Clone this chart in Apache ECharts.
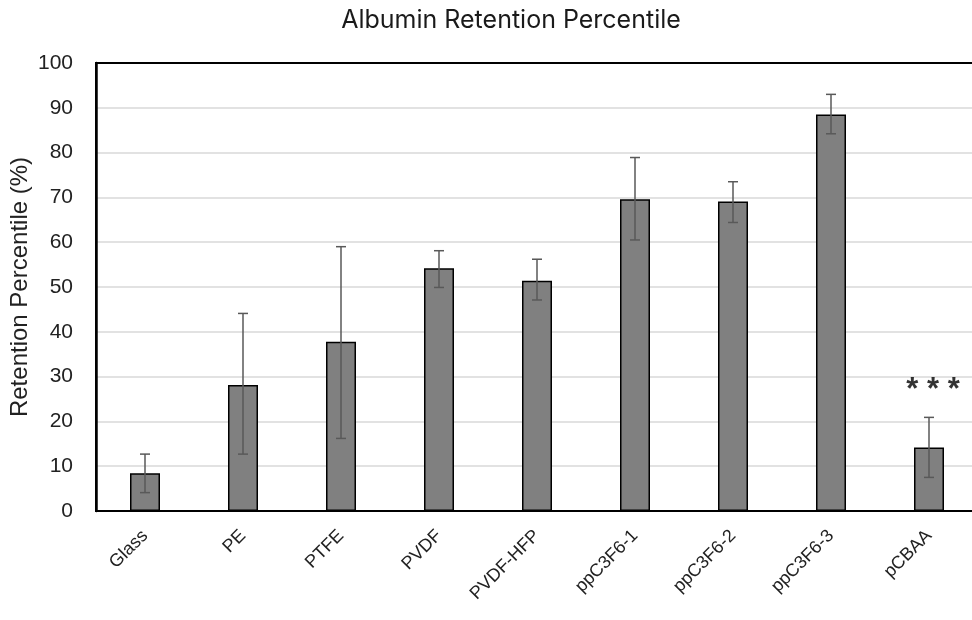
<!DOCTYPE html>
<html><head><meta charset="utf-8">
<script src="https://cdn.jsdelivr.net/npm/echarts@6/dist/echarts.min.js"></script>
<style>html,body{margin:0;padding:0;background:#fff}#c{width:972px;height:620px}</style>
</head><body><div id="c"></div>
<script>
const categories = ['Glass', 'PE', 'PTFE', 'PVDF', 'PVDF-HFP', 'ppC3F6-1', 'ppC3F6-2', 'ppC3F6-3', 'pCBAA'];
const retention = [8.4, 28.1, 37.8, 54.2, 51.4, 69.6, 69.1, 88.5, 14.2];
const errUpper = [12.7, 44.1, 59.0, 58.1, 56.2, 78.9, 73.5, 93.0, 20.9];
const errLower = [4.1, 12.7, 16.2, 49.9, 47.1, 60.5, 64.4, 84.2, 7.5];
const annotations = [{ category: 'pCBAA', y: 26.8, text: '* * *' }];

const chart = echarts.init(document.getElementById('c'));
const errData = categories.map((c, i) => [i, errLower[i], errUpper[i]]);

chart.setOption({
  animation: false,
  backgroundColor: '#fff',
  title: {
    text: 'Albumin Retention Percentile',
    left: 506, top: 3, textAlign: 'center',
    textStyle: { fontFamily: 'Inter', fontWeight: 'normal', fontSize: 25, color: '#1a1a1a' }
  },
  grid: { left: 96, top: 63, width: 882, bottom: 109, containLabel: false, outerBoundsMode: 'none',
    show: true, borderColor: '#000', borderWidth: 2, backgroundColor: 'transparent' },
  xAxis: {
    type: 'category', data: categories,
    axisLine: { lineStyle: { color: '#000', width: 2 } },
    axisTick: { show: false },
    axisLabel: { rotate: 45, margin: 22, fontFamily: 'Liberation Sans', fontSize: 18, color: '#222' }
  },
  yAxis: {
    type: 'value', min: 0, max: 100, interval: 10,
    name: 'Retention Percentile (%)', nameLocation: 'middle', nameGap: 64, nameRotate: 90, nameMoveOverlap: false,
    nameTextStyle: { fontFamily: 'Liberation Sans', fontSize: 24, color: '#222' },
    axisLine: { show: true, lineStyle: { color: '#000', width: 2.5 } },
    axisTick: { show: false },
    axisLabel: { margin: 23, fontFamily: 'Liberation Sans', fontSize: 21, color: '#222' },
    splitLine: { showMinLine: false, showMaxLine: false, lineStyle: { color: '#d9d9d9', width: 1.5 } }
  },
  series: [
    {
      type: 'bar', data: retention, barWidth: 30,
      itemStyle: { color: '#808080', borderColor: '#000', borderWidth: 1.5 }
    },
    {
      type: 'custom', data: errData, z: 10,
      renderItem: function (params, api) {
        const x = api.value(0);
        const lo = api.coord([x, api.value(1)]);
        const hi = api.coord([x, api.value(2)]);
        const hw = 5;
        const st = { stroke: '#595959', lineWidth: 1.5 };
        return { type: 'group', children: [
          { type: 'line', shape: { x1: hi[0], y1: hi[1], x2: lo[0], y2: lo[1] }, style: st },
          { type: 'line', shape: { x1: hi[0] - hw, y1: hi[1], x2: hi[0] + hw, y2: hi[1] }, style: st },
          { type: 'line', shape: { x1: lo[0] - hw, y1: lo[1], x2: lo[0] + hw, y2: lo[1] }, style: st }
        ]};
      }
    },
    {
      type: 'scatter', symbolSize: 0, z: 11,
      data: annotations.map(a => ({ value: [a.category, a.y], text: a.text })),
      label: { show: true, position: 'inside', offset: [4, 0], formatter: p => p.data.text,
        fontFamily: 'Liberation Sans', fontSize: 31, fontWeight: 'bold', color: '#000' }
    }
  ]
});
</script></body></html>
